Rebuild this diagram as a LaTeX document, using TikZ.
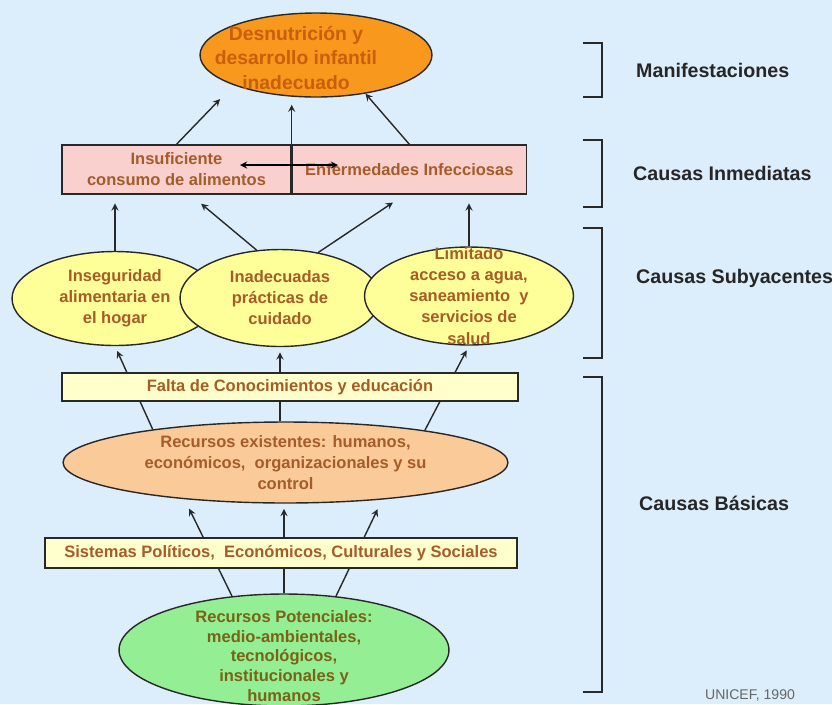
\documentclass[tikz,border=0pt]{standalone}
\usepackage{fontspec}
\setmainfont{Liberation Sans}
\usetikzlibrary{shapes.geometric, arrows, positioning, calc}

\definecolor{fondo}{RGB}{220,238,252}
\definecolor{naranja}{RGB}{248,152,28}
\definecolor{rosa}{RGB}{250,208,206}
\definecolor{amarillo}{RGB}{255,255,153}
\definecolor{crema}{RGB}{255,255,204}
\definecolor{durazno}{RGB}{250,202,152}
\definecolor{verde}{RGB}{148,238,148}
\definecolor{cafe}{RGB}{165,92,40}
\definecolor{cafeosc}{RGB}{200,95,10}
\definecolor{oliva}{RGB}{120,100,20}
\definecolor{borde}{RGB}{40,40,40}

\begin{document}
\begin{tikzpicture}[x=0.02cm, y=-0.02cm,
    elipse/.style={ellipse, draw=borde, thick, inner sep=0pt},
    txt/.style={font=\fontsize{9.4}{12}\selectfont\bfseries, text=cafe, align=center},
    caja/.style={rectangle, draw=borde, thick, inner sep=0pt, txt},
    flecha/.style={->, >=stealth, thick, draw=borde},
    nivel/.style={font=\fontsize{11.2}{13}\selectfont\bfseries, text=black!85, anchor=west},
    llave/.style={line width=1pt, draw=borde}]

        % Fondo y marco de la figura
        \useasboundingbox (0,0) rectangle (832,704);
        \fill[fondo] (0,0) rectangle (832,704);

        % Manifestaciones
        \node[elipse, fill=naranja, minimum width=4.64cm, minimum height=1.68cm,
            label={[txt, text=cafeosc, font=\fontsize{11}{14}\selectfont\bfseries, xshift=-0.4cm, yshift=-0.06cm]center:{Desnutrición y\\desarrollo infantil\\inadecuado}}] (manif) at (316,55) {};

        % Causas inmediatas
        \node[caja, fill=rosa, minimum width=4.58cm, minimum height=0.98cm] (consumo) at (176.5,169.5) {Insuficiente\\consumo de alimentos};
        \node[caja, fill=rosa, minimum width=4.68cm, minimum height=0.98cm, anchor=west] (enferm) at (consumo.east) {Enfermedades Infecciosas};

        % Causas subyacentes
        \node[elipse, fill=amarillo, minimum width=4.12cm, minimum height=1.88cm,
            label={[txt]center:{Inseguridad\\alimentaria en\\el hogar}}] (inseg) at (115,298.5) {};
        \node[elipse, fill=amarillo, minimum width=4.0cm, minimum height=1.94cm,
            label={[txt]center:{Inadecuadas\\prácticas de\\cuidado}}] (practicas) at (280,298) {};
        \node[elipse, fill=amarillo, minimum width=4.18cm, minimum height=1.96cm,
            label={[txt]center:{Limitado\\acceso a agua,\\saneamiento~ y\\servicios de\\salud}}] (acceso) at (469,296) {};

        % Causas basicas
        \node[elipse, fill=durazno, minimum width=8.9cm, minimum height=1.62cm,
            label={[txt]center:{Recursos existentes: humanos,\\económicos,~ organizacionales y su\\control}}] (recursos) at (285.5,462.5) {};
        \node[elipse, fill=verde, minimum width=6.6cm, minimum height=2.24cm,
            label={[txt, text=oliva, font=\fontsize{9.4}{11.2}\selectfont\bfseries, yshift=-0.12cm]center:{Recursos Potenciales:\\medio-ambientales,\\tecnológicos,\\institucionales y\\humanos}}] (potenciales) at (284,650) {};

        % Flechas hacia las manifestaciones
        \draw[flecha, shorten >=11pt] (consumo.north) -- (manif.south west);
        \draw[flecha, shorten >=4pt] (consumo.north east) -- (consumo.north east |- manif.south);
        \draw[flecha] (enferm.north) -- (manif.-38);

        % Doble flecha entre consumo y enfermedades
        \coordinate (dobleIzq) at (240,165);
        \coordinate (dobleDer) at (338,165);
        \draw[<->, >=stealth, thick] (dobleIzq) -- (dobleDer);

        % Flechas hacia las causas inmediatas
        \draw[flecha, shorten >=5pt] (inseg.north) -- (inseg.north |- consumo.south);
        \draw[flecha, shorten >=8pt] (practicas.116) -- ($(consumo.south west)!0.56!(consumo.south east)$);
        \draw[flecha, shorten >=8pt] (practicas.50) -- ($(enferm.south west)!0.48!(enferm.south east)$);
        \draw[flecha, shorten >=5pt] (acceso.north) -- (acceso.north |- enferm.south);

        % Flechas hacia las causas subyacentes
        \draw[flecha, shorten >=3pt] (recursos.166) -- (inseg.south);
        \draw[flecha, shorten >=3pt] (practicas.south |- recursos.north) -- (practicas.south);
        \draw[flecha, shorten >=3pt] (recursos.13) -- (acceso.south);

        % Flechas hacia los recursos existentes
        \draw[flecha, shorten >=6pt] (potenciales.134) -- (recursos.200);
        \draw[flecha, shorten >=3pt] (potenciales.north) -- (potenciales.north |- recursos.south);
        \draw[flecha, shorten >=6pt] (potenciales.46) -- (recursos.-21);

        % Cajas encima de las flechas
        \node[caja, fill=crema, minimum width=9.12cm, minimum height=0.56cm] (falta) at (290,387) {Falta de Conocimientos y educación};
        \node[caja, fill=crema, minimum width=9.44cm, minimum height=0.6cm] (sistemas) at (281,553) {Sistemas Políticos,~ Económicos, Culturales y Sociales};

        % Llaves de los niveles
        \draw[llave] (583,43) -- (602,43) -- (602,97) -- (583,97);
        \draw[llave] (583,140) -- (602,140) -- (602,207) -- (583,207);
        \draw[llave] (583,228) -- (602,228) -- (602,358) -- (583,358);
        \draw[llave] (583,377) -- (602,377) -- (602,692) -- (583,692);

        % Etiquetas de los niveles
        \node[nivel] (lblManif) at (630,70) {Manifestaciones};
        \node[nivel] (lblInmed) at (627,173) {Causas Inmediatas};
        \node[nivel] (lblSubya) at (630,278) {Causas Subyacentes};
        \node[nivel] (lblBasic) at (633,503) {Causas Básicas};

        % Fuente
        \node[font=\fontsize{8}{10}\selectfont, text=black!60, anchor=south west, inner sep=1pt] (fuente) at (703,703) {UNICEF, 1990};
\end{tikzpicture}
\end{document}
